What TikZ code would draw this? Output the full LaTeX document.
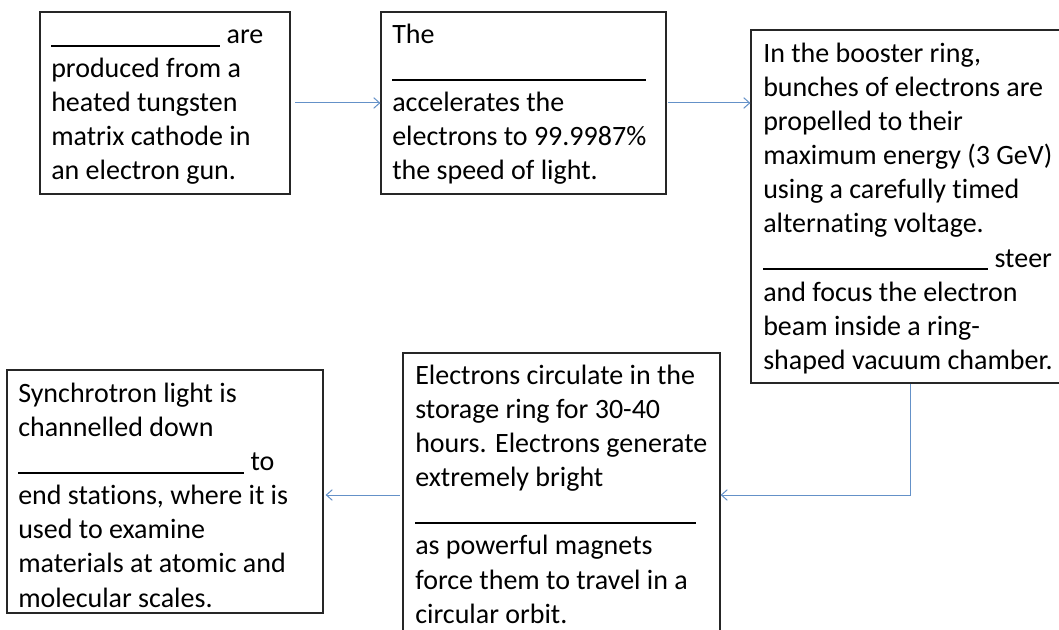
\documentclass[tikz,border=0pt]{standalone}
\usepackage{fontspec}
\setmainfont{Carlito}[Ligatures=CommonOff]
\usetikzlibrary{arrows.meta}
\newcommand\blank[1]{\rule[-2.5pt]{#1}{1.5pt}}
\begin{document}
\begin{tikzpicture}[x=0.75pt,y=-0.75pt,
  box/.style={draw=black!85,line width=0.9pt,rectangle,inner sep=0pt},
  txt/.style={anchor=north west,inner sep=0pt,align=left,
    font=\fontsize{21}{25.6}\selectfont},
  flow/.style={draw={rgb,255:red,100;green,145;blue,200},line width=0.75pt,
    -{Straight Barb[length=4.5pt,width=8pt]}}]
\path[use as bounding box,clip] (0,0) rectangle (1059,630);
\fill[white] (0,0) rectangle (1059,630);
% boxes
\node[box,minimum width=187.5pt,minimum height=136.5pt] (b1) at (165,103) {};
\node[box,minimum width=213.75pt,minimum height=136.5pt] (b2) at (523.5,103) {};
\node[box,minimum width=239.25pt,minimum height=264.75pt] (b3) at (910.5,206.5) {};
\node[box,minimum width=237.75pt,minimum height=213pt] (b4) at (561.5,495) {};
\node[box,minimum width=237pt,minimum height=182.25pt] (b5) at (165,491.5) {};
% texts
\node[txt] (t1) at (51,16.3) {\rule{0pt}{20pt}\blank{126.75pt} are\\
produced from a\\heated tungsten\\matrix cathode in\\an electron gun.};
\node[txt] (t2) at (392,16.3) {\rule{0pt}{20pt}The\\\blank{190.5pt}\\
accelerates the\\electrons to 99.9987\%\\the speed of light.};
\node[txt] (t3) at (763,35.3) {\rule{0pt}{20pt}In the booster ring,\\
bunches of electrons are\\propelled to their\\maximum energy (3 GeV)\\
using a carefully timed\\alternating voltage.\\\blank{168.75pt} steer\\
and focus the electron\\beam inside a ring-\\shaped vacuum chamber.};
\node[txt] (t4) at (415,357.3) {\rule{0pt}{20pt}Electrons circulate in the\\
storage ring for 30-40\\hours. Electrons generate\\extremely bright\\
\blank{210.75pt}\\as powerful magnets\\force them to travel in a\\circular orbit.};
\node[txt] (t5) at (18,375.3) {\rule{0pt}{20pt}Synchrotron light is\\
channelled down\\\blank{169.5pt} to\\end stations, where it is\\
used to examine\\materials at atomic and\\molecular scales.};
% connectors
\draw[flow,shorten <=3.5pt] (b1.east) -- (b2.west);
\draw[flow,shorten <=1pt] (b2.east) -- (b3.west |- b2.east);
\draw[flow] (b3.south) |- (b4.east);
\draw[flow,shorten <=2pt,shorten >=1.5pt] (b4.west) -- (b4.west -| b5.east);
\end{tikzpicture}
\end{document}
